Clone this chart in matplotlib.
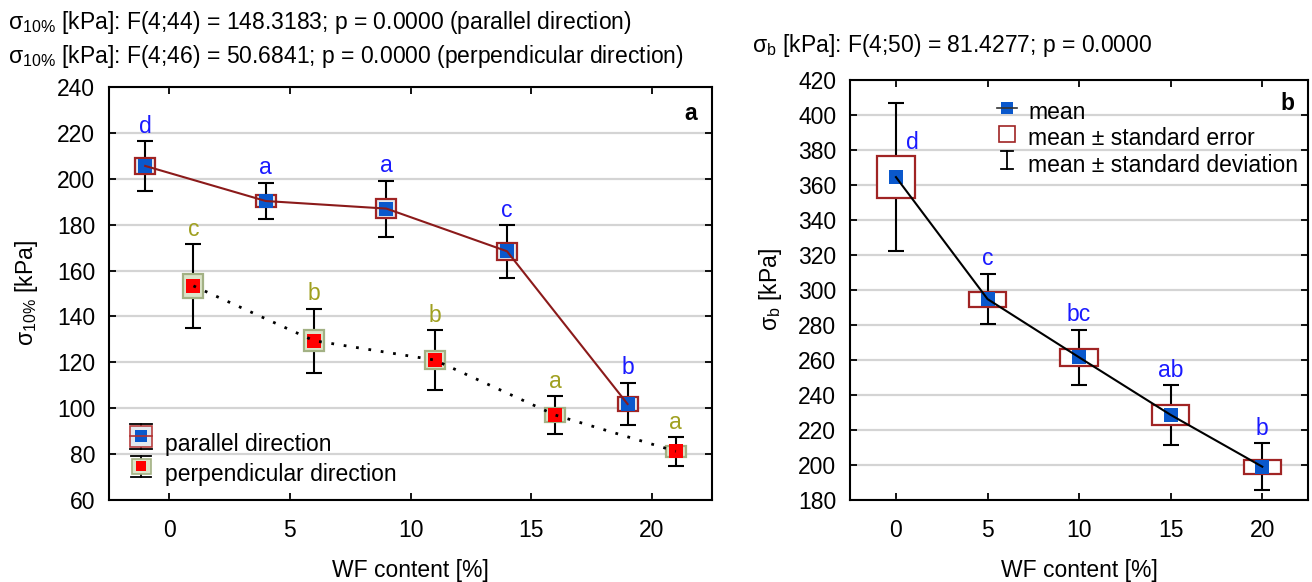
"""
Two-panel strength plot: sigma_10% by direction (a) and sigma_b (b) vs WF content.
Square = mean, box = mean +/- SE, whisker = mean +/- SD.
"""
import matplotlib
matplotlib.use("Agg")
import matplotlib.pyplot as plt
from matplotlib.patches import Rectangle
from matplotlib.lines import Line2D
from matplotlib.legend_handler import HandlerBase

plt.rcParams["font.family"] = ["Liberation Sans", "DejaVu Sans"]
plt.rcParams["mathtext.default"] = "regular"

# --- data ---
wf = [0, 5, 10, 15, 20]

par_mean = [205.6, 190.3, 187.0, 168.4, 101.8]
par_se = [3.4, 2.8, 4.1, 3.6, 3.1]
par_sd = [10.8, 8.0, 12.2, 11.5, 9.3]
par_grp = ["d", "a", "a", "c", "b"]

perp_mean = [153.3, 129.4, 121.0, 97.0, 81.2]
perp_se = [5.3, 4.5, 4.0, 3.0, 2.3]
perp_sd = [18.2, 14.0, 13.0, 8.3, 6.2]
perp_grp = ["c", "b", "b", "a", "a"]

b_mean = [364.5, 294.8, 261.5, 228.6, 199.0]
b_se = [12.1, 4.3, 5.0, 5.5, 4.0]
b_sd = [42.3, 14.5, 15.8, 17.0, 13.4]
b_grp = ["d", "c", "bc", "ab", "b"]

title_a1 = "σ$_{10\\%}$ [kPa]: F(4;44) = 148.3183; p = 0.0000 (parallel direction)"
title_a2 = "σ$_{10\\%}$ [kPa]: F(4;46) = 50.6841; p = 0.0000 (perpendicular direction)"
title_b = "σ$_{b}$ [kPa]: F(4;50) = 81.4277; p = 0.0000"

BLUE = "#0a58cc"
RED = "#ff0000"
DARKRED = "#a02424"
OLIVE_EDGE = "#a3b184"
OLIVE_FACE = "#dbe4c9"
LETTER_BLUE = "#1a1aff"
LETTER_OLIVE = "#a0a020"
FS = 16.5


class Glyph:
    """Legend key made of optional whisker, box, marker and line (sizes in points)."""
    def __init__(self, whisk=0, capw=0, boxw=0, boxh=0, fc="none", ec="none",
                 ms=0, mc=None, linew=0, lc=None):
        self.__dict__.update(locals())


class GlyphHandler(HandlerBase):
    def legend_artist(self, legend, orig, fontsize, handlebox):
        g = orig
        x0, y0 = handlebox.xdescent, handlebox.ydescent
        cx = x0 + handlebox.width / 2
        cy = y0 + handlebox.height / 2
        arts = []
        if g.whisk:
            h = g.whisk / 2
            arts.append(Line2D([cx, cx], [cy - h, cy + h], color="black", lw=1.3))
            for yy in (cy - h, cy + h):
                arts.append(Line2D([cx - g.capw / 2, cx + g.capw / 2], [yy, yy],
                                   color="black", lw=1.3))
        if g.boxw:
            arts.append(Rectangle((cx - g.boxw / 2, cy - g.boxh / 2), g.boxw, g.boxh,
                                  fc=g.fc, ec=g.ec, lw=1.2))
        if g.ms:
            arts.append(Line2D([cx], [cy], marker="s", ms=g.ms, mfc=g.mc, mew=0, ls="none"))
        if g.linew:
            arts.append(Line2D([cx - g.linew / 2, cx + g.linew / 2], [cy, cy],
                               color=g.lc, lw=1.2))
        for a in arts:
            handlebox.add_artist(a)
        return arts[0]


def style(ax, ylim, yticks):
    ax.set_xlim(-2.5, 22.5)
    ax.set_ylim(*ylim)
    ax.set_xticks(wf)
    ax.set_yticks(yticks)
    ax.yaxis.grid(True, color="#d4d4d4", lw=1.6)
    ax.set_axisbelow(True)
    ax.tick_params(direction="in", top=True, right=True, length=5, width=1.3,
                   labelsize=FS, color="black")
    ax.tick_params(axis="x", pad=14)
    ax.tick_params(axis="y", pad=10)
    for s in ax.spines.values():
        s.set_linewidth(1.5)
    ax.set_xlabel("WF content [%]", fontsize=FS, labelpad=12)


def series(ax, xs, mean, se, sd, boxw, msize, mcolor, box_ec, box_fc,
           line_kw, letters, lcolor):
    ax.errorbar(xs, mean, yerr=sd, fmt="none", ecolor="black",
                elinewidth=1.5, capsize=6, capthick=1.5, zorder=3)
    for x, m, e in zip(xs, mean, se):
        ax.add_patch(Rectangle((x - boxw / 2, m - e), boxw, 2 * e, fc=box_fc,
                               ec=box_ec, lw=1.6, zorder=4))
    ax.plot(xs, mean, "s", color=mcolor, ms=msize, mew=0, zorder=5)
    ax.plot(xs, mean, zorder=6, **line_kw)
    for x, m, s, t in zip(xs, mean, sd, letters):
        ax.annotate(t, (x, m + s), xytext=(0, 6), textcoords="offset points",
                    ha="center", va="baseline", color=lcolor, fontsize=FS)


fig = plt.figure(figsize=(13.12, 5.82), dpi=100)
ax1 = fig.add_axes([0.0831, 0.141, 0.4596, 0.7095])
ax2 = fig.add_axes([0.648, 0.141, 0.349, 0.7215])
hmap = {Glyph: GlyphHandler()}

# panel a
style(ax1, (60, 240), range(60, 241, 20))
xp = [x - 1 for x in wf]
xq = [x + 1 for x in wf]
series(ax1, xp, par_mean, par_se, par_sd, 0.83, 10.5, BLUE, DARKRED, "#e4e9ef",
       dict(color="#8b1a1a", lw=1.5), par_grp, LETTER_BLUE)
series(ax1, xq, perp_mean, perp_se, perp_sd, 0.83, 10.5, RED, OLIVE_EDGE, OLIVE_FACE,
       dict(color="black", lw=2, ls=(0, (1, 3.5))), perp_grp, LETTER_OLIVE)
ax1.set_ylabel("σ$_{10\\%}$ [kPa]", fontsize=FS, labelpad=12)
ax1.text(0.965, 0.935, "a", transform=ax1.transAxes, fontsize=FS, fontweight="bold",
         ha="center", va="center")

g_par = Glyph(whisk=18, capw=16, boxw=16, boxh=15.5, fc="#e4e9ef", ec="#b84040",
              ms=8.4, mc=BLUE, linew=16, lc="#b03030")
g_perp = Glyph(whisk=14.7, capw=14, boxw=13.7, boxh=11.3, fc=OLIVE_FACE, ec=OLIVE_EDGE,
               ms=7.2, mc=RED)
ax1.legend([g_par, g_perp], ["parallel direction", "perpendicular direction"],
           handler_map=hmap, loc="lower left", bbox_to_anchor=(0.0, -0.017),
           frameon=False, fontsize=FS, handlelength=1.0, handleheight=1.15,
           handletextpad=0.55, labelspacing=0.25)

# panel b
style(ax2, (180, 420), range(180, 421, 20))
series(ax2, wf, b_mean, b_se, b_sd, 2.05, 10, BLUE, DARKRED, "white",
       dict(color="black", lw=1.5), b_grp, LETTER_BLUE)
# the first group letter sits beside the tall whisker
ax2.texts[0].remove()
ax2.annotate(b_grp[0], (wf[0], b_mean[0] + b_se[0]), xytext=(12, 5),
             textcoords="offset points", ha="center", va="baseline",
             color=LETTER_BLUE, fontsize=FS)
ax2.set_ylabel("σ$_{b}$ [kPa]", fontsize=FS, labelpad=10)
ax2.text(0.955, 0.945, "b", transform=ax2.transAxes, fontsize=FS, fontweight="bold",
         ha="center", va="center")

g_mean = Glyph(ms=8.6, mc=BLUE, linew=14, lc="#333333")
g_se = Glyph(boxw=11.5, boxh=11.5, fc="white", ec=DARKRED)
g_sd = Glyph(whisk=13, capw=9)
ax2.legend([g_mean, g_se, g_sd],
           ["mean", "mean ± standard error", "mean ± standard deviation"],
           handler_map=hmap, loc="upper left", bbox_to_anchor=(0.276, 1.0),
           frameon=False, fontsize=FS, handlelength=0.85, handleheight=0.9,
           handletextpad=0.5, labelspacing=0.15)

fig.text(0.006, 0.962, title_a1, fontsize=FS, va="center")
fig.text(0.006, 0.903, title_a2, fontsize=FS, va="center")
fig.text(0.573, 0.922, title_b, fontsize=FS, va="center")

fig.savefig("out.png", dpi=100)
